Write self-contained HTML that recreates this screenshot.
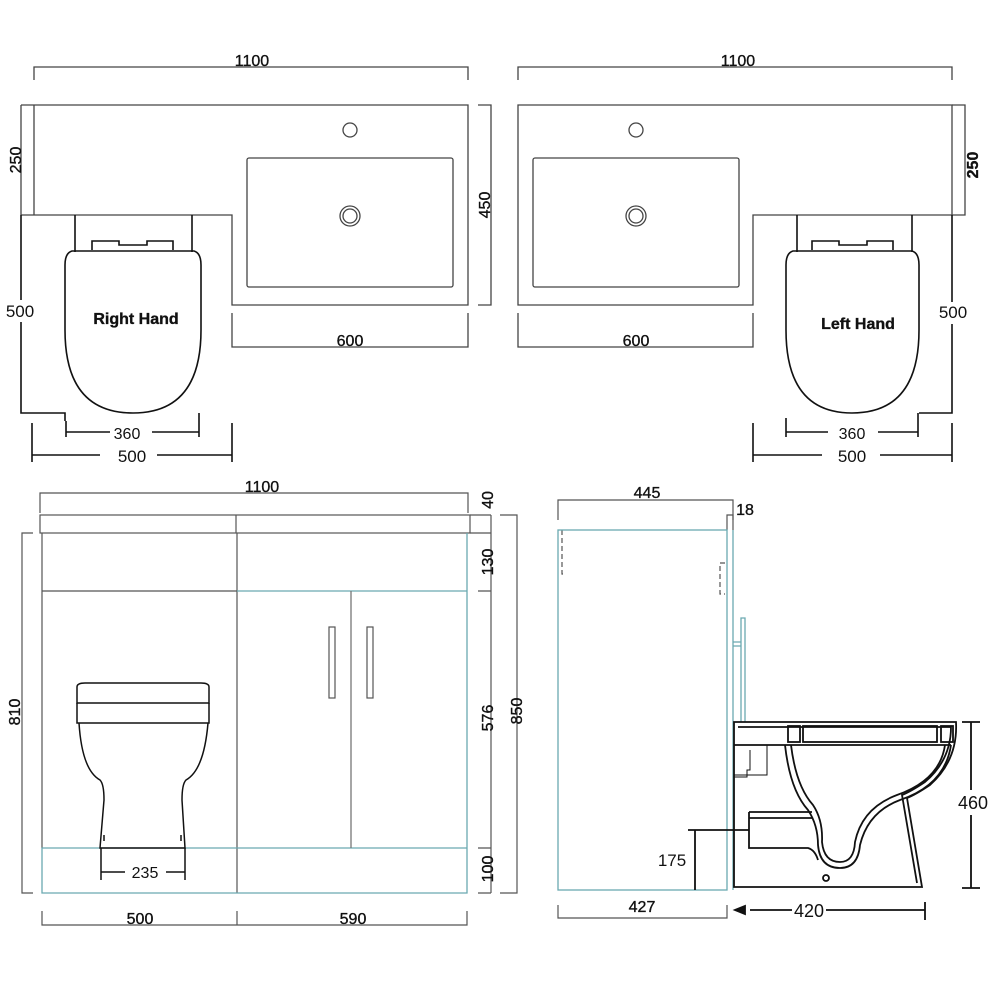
<!DOCTYPE html>
<html><head><meta charset="utf-8"><style>
html,body{margin:0;padding:0;background:#fff;}
svg{display:block;}
text{font-family:"Liberation Sans",Arial,sans-serif;fill:#111;stroke:#111;stroke-width:0.35;}
</style></head><body>
<svg width="1001" height="1001" viewBox="0 0 1001 1001" xmlns="http://www.w3.org/2000/svg">
<g fill="none" stroke="#444" stroke-width="1.3">
<path d="M34,80 V67 H468 V80"/>
<path d="M34,105 H468 V305 H232 V215 H21 M34,215 V105"/>
<path d="M21,105 H34 M21,105 V215"/>
<path d="M478,105 H491 V305 H478"/>
<rect x="247" y="158" width="206" height="129" rx="2"/>
<circle cx="350" cy="130" r="7"/>
<circle cx="350" cy="216" r="10"/><circle cx="350" cy="216" r="7"/>
<path d="M232,313 V347 H468 V313"/>
</g>
<g fill="none" stroke="#111" stroke-width="1.6">
<path d="M75,215 V252 M192,215 V252"/>
<path d="M92,250 V241 H119 V245 H147 V241 H173 V250"/>
<path d="M72,251 H194 Q201,253 201,265 V330 Q201,413 133,413 Q65,413 65,330 V265 Q65,253 72,251 Z"/>
<path d="M21,215 V413 H65 V421"/>
<path d="M66,421 V437 M199,413 V437 M66,432 H110 M152,432 H199"/>
<path d="M32,423 V462 M232,423 V462 M32,455 H100 M157,455 H232"/>
</g>
<text x="252" y="66" font-size="16" text-anchor="middle">1100</text>
<text transform="translate(21,160) rotate(-90)" font-size="16" text-anchor="middle">250</text>
<text transform="translate(490,205) rotate(-90)" font-size="16" text-anchor="middle">450</text>
<text x="350" y="346" font-size="16" text-anchor="middle">600</text>
<text x="136" y="324" font-size="16" font-weight="bold" text-anchor="middle">Right Hand</text>
<rect x="2" y="300" width="38" height="22" fill="#fff"/>
<text x="20" y="317" font-size="17" text-anchor="middle" style="stroke-width:0">500</text>
<text x="127" y="439" font-size="16" text-anchor="middle" fill="#444" style="stroke-width:0">360</text>
<text x="132" y="462" font-size="17" text-anchor="middle" style="stroke-width:0">500</text>

<!-- TOP RIGHT -->
<g fill="none" stroke="#444" stroke-width="1.3">
<path d="M518,80 V67 H952 V80"/>
<path d="M518,105 H952 V215 H753 V305 H518 Z"/>
<path d="M952,105 H965 V215 H952"/>
<rect x="533" y="158" width="206" height="129" rx="2"/>
<circle cx="636" cy="130" r="7"/>
<circle cx="636" cy="216" r="10"/><circle cx="636" cy="216" r="7"/>
<path d="M518,313 V347 H753 V313"/>
</g>
<g fill="none" stroke="#111" stroke-width="1.6">
<path d="M797,215 V252 M912,215 V252"/>
<path d="M812,250 V241 H839 V245 H867 V241 H893 V250"/>
<path d="M793,251 H912 Q919,253 919,265 V330 Q919,413 852,413 Q786,413 786,330 V265 Q786,253 793,251 Z"/>
<path d="M952,215 V413 H919 M786,418 V437 M918,413 V437 M786,432 H828 M878,432 H918"/>
<path d="M753,423 V462 M952,423 V462 M753,455 H822 M880,455 H952"/>
</g>
<text x="738" y="66" font-size="16" text-anchor="middle">1100</text>
<text transform="translate(978,165) rotate(-90)" font-size="16" font-weight="bold" text-anchor="middle">250</text>
<text x="636" y="346" font-size="16" text-anchor="middle">600</text>
<text x="858" y="329" font-size="16" font-weight="bold" text-anchor="middle">Left Hand</text>
<rect x="934" y="302" width="38" height="22" fill="#fff"/>
<text x="953" y="318" font-size="17" text-anchor="middle" style="stroke-width:0">500</text>
<text x="852" y="439" font-size="16" text-anchor="middle" fill="#444" style="stroke-width:0">360</text>
<text x="852" y="462" font-size="17" text-anchor="middle" style="stroke-width:0">500</text>

<!-- BOTTOM LEFT -->
<g fill="none" stroke="#555" stroke-width="1.2">
<path d="M40,513 V493 H468 V513"/>
<rect x="40" y="515" width="430" height="18"/>
<path d="M236,515 V533"/>
<path d="M42,533 V848 M42,591 H237 M237,533 V893"/>
<path d="M33,533 H22 V893 H33"/>
<path d="M470,515 H491 M470,533 H491 M478,591 H491 M478,848 H491 M478,893 H491 M491,515 V893"/>
<path d="M500,515 H517 V893 H500"/>
<path d="M42,911 V925 H467 V911 M237,911 V925"/>
</g>
<g fill="none" stroke="#6aa9b0" stroke-width="1.3">
<path d="M237,591 H467 V533 M467,591 V893 H42 V848 H467 M237,848 H42"/>
<path d="M351,591 V848" stroke="#777"/>
</g>
<g fill="none" stroke="#555" stroke-width="1.2">
<rect x="329" y="627" width="6" height="71"/>
<rect x="367" y="627" width="6" height="71"/>
</g>
<g fill="none" stroke="#111" stroke-width="1.5">
<path d="M77,687 Q77,683 85,683 H201 Q209,683 209,687 V703 H77 Z"/>
<path d="M77,703 V723 H209 V703"/>
<path d="M79,723 Q82,770 100,780 Q104,784 104,800 L100,848 H185 L182,800 Q182,784 186,780 Q204,770 208,723"/>
<path d="M104,835 V841 M181,835 V841"/>
<path d="M101,848 V880 M185,848 V880 M101,872 H125 M166,872 H185"/>
</g>
<text x="262" y="492" font-size="16" text-anchor="middle">1100</text>
<text transform="translate(493,500) rotate(-90)" font-size="16" text-anchor="middle">40</text>
<text transform="translate(493,562) rotate(-90)" font-size="16" text-anchor="middle">130</text>
<text transform="translate(493,718) rotate(-90)" font-size="16" text-anchor="middle">576</text>
<text transform="translate(493,869) rotate(-90)" font-size="16" text-anchor="middle">100</text>
<text transform="translate(522,711) rotate(-90)" font-size="16" text-anchor="middle">850</text>
<text transform="translate(20,712) rotate(-90)" font-size="16" text-anchor="middle">810</text>
<text x="145" y="878" font-size="16" text-anchor="middle" fill="#444" style="stroke-width:0">235</text>
<text x="140" y="924" font-size="16" text-anchor="middle">500</text>
<text x="353" y="924" font-size="16" text-anchor="middle">590</text>

<!-- BOTTOM RIGHT -->
<g fill="none" stroke="#555" stroke-width="1.2">
<path d="M558,520 V500 H733 V520"/>
<path d="M727,530 V515 H733 V530"/>
<path d="M558,905 V918 H727 V905"/>
<path d="M562,530 V574 H564" stroke-dasharray="5,3"/>
<path d="M725,563 H720 V594 H725" stroke-dasharray="5,3"/>
</g>
<g fill="none" stroke="#6aa9b0" stroke-width="1.3">
<rect x="558" y="530" width="169" height="360"/>
<path d="M733,530 V890"/>
<path d="M741,722 V618 H745 V722"/>
<path d="M733,642 H741 M733,646 H741"/>
</g>
<g fill="none" stroke="#111" stroke-width="1.8">
<path d="M734,722 H956 Q958,760 930,785 Q915,795 907,798 L922,887 H734 Z"/>
<path d="M738,727 H951 Q951,760 925,782 Q910,792 902,795 L917,883"/>
<rect x="788" y="726" width="12" height="16"/>
<rect x="803" y="726" width="134" height="16"/>
<rect x="941" y="726" width="12" height="16"/>
<path d="M734,745 H951"/>
<path d="M785,745 Q790,790 808,810 Q818,825 818,845 Q820,868 840,868 Q858,868 860,845 Q868,812 900,800 Q945,785 951,745"/>
<path d="M791,745 Q796,786 813,805 Q823,820 822,842 Q824,862 840,862 Q854,862 855,842 Q862,808 897,795 Q940,780 945,745"/>
<path d="M749,812 H812 M749,812 V848 H808 Q815,850 818,860 M749,818 H812"/>
<circle cx="826" cy="878" r="3"/>
<path d="M750,750 V770 H747 V777 H734" stroke-width="1"/>
<path d="M767,745 V775 H734" stroke-width="1"/>
<path d="M688,830 H749 M695,830 V890"/>
<path d="M962,722 H980 M971,722 V790 M971,815 V888 M962,888 H980"/>
<path d="M750,910 H792 M826,910 H925 M925,902 V920"/>
<path d="M735,910 L745,906 V914 Z" fill="#111"/>
</g>
<text x="647" y="498" font-size="16" text-anchor="middle">445</text>
<text x="745" y="515" font-size="16" text-anchor="middle">18</text>
<text x="672" y="866" font-size="17" text-anchor="middle" style="stroke-width:0">175</text>
<text x="973" y="809" font-size="18" text-anchor="middle" style="stroke-width:0">460</text>
<text x="642" y="912" font-size="16" text-anchor="middle">427</text>
<text x="809" y="917" font-size="18" text-anchor="middle" style="stroke-width:0">420</text>
</svg>
</body></html>
